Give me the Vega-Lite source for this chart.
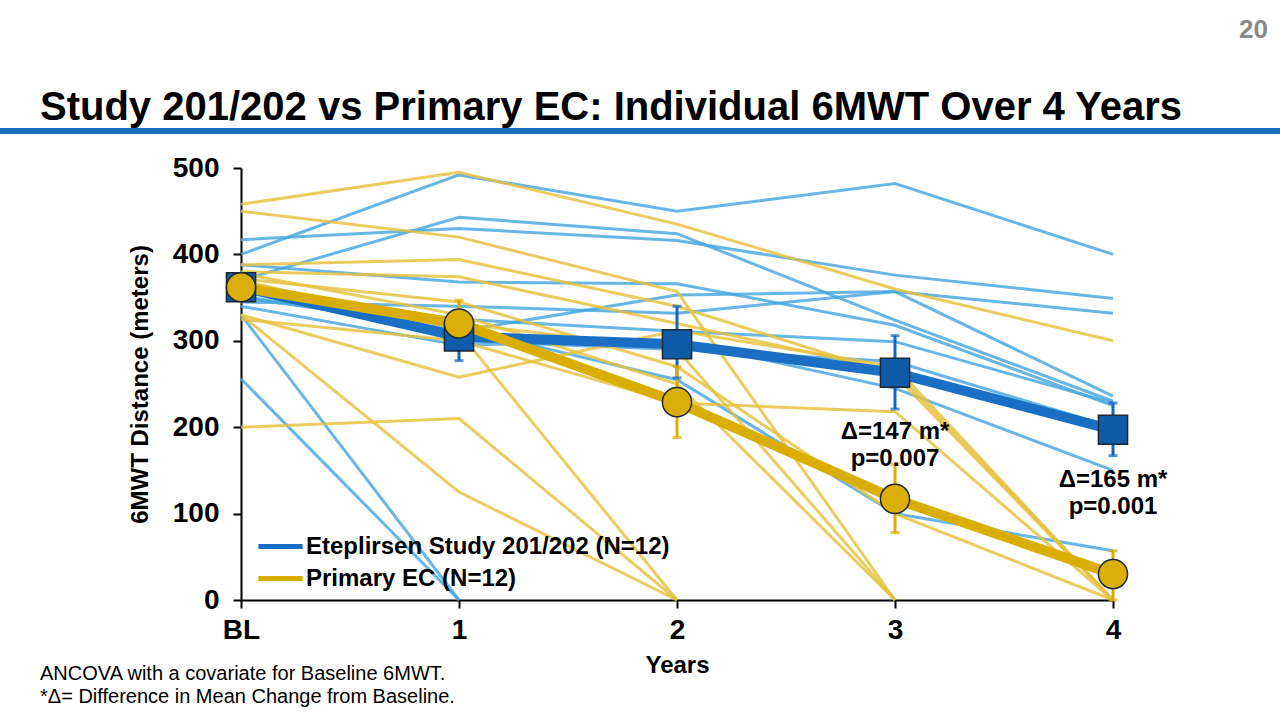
{
  "$schema": "https://vega.github.io/schema/vega-lite/v6.json",
  "width": 872,
  "height": 432,
  "autosize": {"type": "none"},
  "padding": {"left": 241, "top": 168, "right": 167, "bottom": 120},
  "background": "white",
  "config": {
    "view": {"stroke": null},
    "font": "Liberation Sans",
    "axis": {
      "grid": false,
      "domainColor": "black",
      "domainWidth": 2,
      "tickColor": "black",
      "tickWidth": 2,
      "tickSize": 8,
      "labelFont": "Liberation Sans",
      "labelFontSize": 28,
      "labelFontWeight": "bold",
      "labelColor": "black",
      "labelFlush": false,
      "titleFont": "Liberation Sans",
      "titleFontSize": 24,
      "titleFontWeight": "bold",
      "titleColor": "black"
    },
    "legend": {
      "orient": "none",
      "legendX": 21,
      "legendY": 360,
      "title": null,
      "padding": 0,
      "labelFont": "Liberation Sans",
      "labelFontSize": 24,
      "labelFontWeight": "bold",
      "labelColor": "black",
      "labelLimit": 0,
      "symbolType": "M -1.4 0 L 1.4 0",
      "symbolStrokeWidth": 5,
      "symbolSize": 1000,
      "rowPadding": 1,
      "labelOffset": 7
    }
  },
  "datasets": {
    "individual": [
      {"g": "Eteplirsen", "id": "E1", "year": 0, "dist": 400}, {"g": "Eteplirsen", "id": "E1", "year": 1, "dist": 492}, {"g": "Eteplirsen", "id": "E1", "year": 2, "dist": 450}, {"g": "Eteplirsen", "id": "E1", "year": 3, "dist": 482}, {"g": "Eteplirsen", "id": "E1", "year": 4, "dist": 400},
      {"g": "Eteplirsen", "id": "E2", "year": 0, "dist": 417}, {"g": "Eteplirsen", "id": "E2", "year": 1, "dist": 430}, {"g": "Eteplirsen", "id": "E2", "year": 2, "dist": 416}, {"g": "Eteplirsen", "id": "E2", "year": 3, "dist": 376}, {"g": "Eteplirsen", "id": "E2", "year": 4, "dist": 349},
      {"g": "Eteplirsen", "id": "E3", "year": 0, "dist": 370}, {"g": "Eteplirsen", "id": "E3", "year": 1, "dist": 443}, {"g": "Eteplirsen", "id": "E3", "year": 2, "dist": 424}, {"g": "Eteplirsen", "id": "E3", "year": 3, "dist": 324}, {"g": "Eteplirsen", "id": "E3", "year": 4, "dist": 230},
      {"g": "Eteplirsen", "id": "E4", "year": 0, "dist": 345}, {"g": "Eteplirsen", "id": "E4", "year": 1, "dist": 340}, {"g": "Eteplirsen", "id": "E4", "year": 2, "dist": 332}, {"g": "Eteplirsen", "id": "E4", "year": 3, "dist": 357}, {"g": "Eteplirsen", "id": "E4", "year": 4, "dist": 332},
      {"g": "Eteplirsen", "id": "E5", "year": 0, "dist": 388}, {"g": "Eteplirsen", "id": "E5", "year": 1, "dist": 368}, {"g": "Eteplirsen", "id": "E5", "year": 2, "dist": 366}, {"g": "Eteplirsen", "id": "E5", "year": 3, "dist": 318}, {"g": "Eteplirsen", "id": "E5", "year": 4, "dist": 225},
      {"g": "Eteplirsen", "id": "E6", "year": 0, "dist": 352}, {"g": "Eteplirsen", "id": "E6", "year": 1, "dist": 311}, {"g": "Eteplirsen", "id": "E6", "year": 2, "dist": 353}, {"g": "Eteplirsen", "id": "E6", "year": 3, "dist": 357}, {"g": "Eteplirsen", "id": "E6", "year": 4, "dist": 236},
      {"g": "Eteplirsen", "id": "E7", "year": 0, "dist": 358}, {"g": "Eteplirsen", "id": "E7", "year": 1, "dist": 325}, {"g": "Eteplirsen", "id": "E7", "year": 2, "dist": 311}, {"g": "Eteplirsen", "id": "E7", "year": 3, "dist": 299}, {"g": "Eteplirsen", "id": "E7", "year": 4, "dist": 228},
      {"g": "Eteplirsen", "id": "E8", "year": 0, "dist": 365}, {"g": "Eteplirsen", "id": "E8", "year": 1, "dist": 300}, {"g": "Eteplirsen", "id": "E8", "year": 2, "dist": 290}, {"g": "Eteplirsen", "id": "E8", "year": 3, "dist": 276}, {"g": "Eteplirsen", "id": "E8", "year": 4, "dist": 200},
      {"g": "Eteplirsen", "id": "E9", "year": 0, "dist": 350}, {"g": "Eteplirsen", "id": "E9", "year": 1, "dist": 315}, {"g": "Eteplirsen", "id": "E9", "year": 2, "dist": 255}, {"g": "Eteplirsen", "id": "E9", "year": 3, "dist": 100}, {"g": "Eteplirsen", "id": "E9", "year": 4, "dist": 57},
      {"g": "Eteplirsen", "id": "E10", "year": 0, "dist": 340}, {"g": "Eteplirsen", "id": "E10", "year": 1, "dist": 295}, {"g": "Eteplirsen", "id": "E10", "year": 2, "dist": 300}, {"g": "Eteplirsen", "id": "E10", "year": 3, "dist": 245}, {"g": "Eteplirsen", "id": "E10", "year": 4, "dist": 150},
      {"g": "Eteplirsen", "id": "E11", "year": 0, "dist": 330}, {"g": "Eteplirsen", "id": "E11", "year": 1, "dist": 0},
      {"g": "Eteplirsen", "id": "E12", "year": 0, "dist": 256}, {"g": "Eteplirsen", "id": "E12", "year": 1, "dist": 0},
      {"g": "Primary", "id": "P1", "year": 0, "dist": 458}, {"g": "Primary", "id": "P1", "year": 1, "dist": 495}, {"g": "Primary", "id": "P1", "year": 2, "dist": 435}, {"g": "Primary", "id": "P1", "year": 3, "dist": 360}, {"g": "Primary", "id": "P1", "year": 4, "dist": 300},
      {"g": "Primary", "id": "P2", "year": 0, "dist": 450}, {"g": "Primary", "id": "P2", "year": 1, "dist": 420}, {"g": "Primary", "id": "P2", "year": 2, "dist": 357}, {"g": "Primary", "id": "P2", "year": 3, "dist": 0},
      {"g": "Primary", "id": "P3", "year": 0, "dist": 388}, {"g": "Primary", "id": "P3", "year": 1, "dist": 394}, {"g": "Primary", "id": "P3", "year": 2, "dist": 340}, {"g": "Primary", "id": "P3", "year": 3, "dist": 260}, {"g": "Primary", "id": "P3", "year": 4, "dist": 0},
      {"g": "Primary", "id": "P4", "year": 0, "dist": 380}, {"g": "Primary", "id": "P4", "year": 1, "dist": 374}, {"g": "Primary", "id": "P4", "year": 2, "dist": 320}, {"g": "Primary", "id": "P4", "year": 3, "dist": 265}, {"g": "Primary", "id": "P4", "year": 4, "dist": 0},
      {"g": "Primary", "id": "P5", "year": 0, "dist": 370}, {"g": "Primary", "id": "P5", "year": 1, "dist": 310}, {"g": "Primary", "id": "P5", "year": 2, "dist": 0},
      {"g": "Primary", "id": "P6", "year": 0, "dist": 330}, {"g": "Primary", "id": "P6", "year": 1, "dist": 258}, {"g": "Primary", "id": "P6", "year": 2, "dist": 312}, {"g": "Primary", "id": "P6", "year": 3, "dist": 270}, {"g": "Primary", "id": "P6", "year": 4, "dist": 0},
      {"g": "Primary", "id": "P7", "year": 0, "dist": 325}, {"g": "Primary", "id": "P7", "year": 1, "dist": 300}, {"g": "Primary", "id": "P7", "year": 2, "dist": 228}, {"g": "Primary", "id": "P7", "year": 3, "dist": 218}, {"g": "Primary", "id": "P7", "year": 4, "dist": 0},
      {"g": "Primary", "id": "P8", "year": 0, "dist": 200}, {"g": "Primary", "id": "P8", "year": 1, "dist": 210}, {"g": "Primary", "id": "P8", "year": 2, "dist": 0},
      {"g": "Primary", "id": "P9", "year": 0, "dist": 330}, {"g": "Primary", "id": "P9", "year": 1, "dist": 125}, {"g": "Primary", "id": "P9", "year": 2, "dist": 0},
      {"g": "Primary", "id": "P10", "year": 0, "dist": 378}, {"g": "Primary", "id": "P10", "year": 1, "dist": 330}, {"g": "Primary", "id": "P10", "year": 2, "dist": 250}, {"g": "Primary", "id": "P10", "year": 3, "dist": 0},
      {"g": "Primary", "id": "P11", "year": 0, "dist": 360}, {"g": "Primary", "id": "P11", "year": 1, "dist": 320}, {"g": "Primary", "id": "P11", "year": 2, "dist": 290}, {"g": "Primary", "id": "P11", "year": 3, "dist": 0},
      {"g": "Primary", "id": "P12", "year": 0, "dist": 372}, {"g": "Primary", "id": "P12", "year": 1, "dist": 345}, {"g": "Primary", "id": "P12", "year": 2, "dist": 270}, {"g": "Primary", "id": "P12", "year": 3, "dist": 100}, {"g": "Primary", "id": "P12", "year": 4, "dist": 0}
    ],
    "means": [
      {"g": "Eteplirsen", "year": 0, "dist": 362, "lo": null, "hi": null},
      {"g": "Eteplirsen", "year": 1, "dist": 305, "lo": 277, "hi": 333},
      {"g": "Eteplirsen", "year": 2, "dist": 296, "lo": 257, "hi": 340},
      {"g": "Eteplirsen", "year": 3, "dist": 263, "lo": 221, "hi": 306},
      {"g": "Eteplirsen", "year": 4, "dist": 197, "lo": 167, "hi": 228},
      {"g": "Primary", "year": 0, "dist": 362, "lo": null, "hi": null},
      {"g": "Primary", "year": 1, "dist": 320, "lo": 295, "hi": 347},
      {"g": "Primary", "year": 2, "dist": 229, "lo": 188, "hi": 270},
      {"g": "Primary", "year": 3, "dist": 117, "lo": 78, "hi": 157},
      {"g": "Primary", "year": 4, "dist": 30, "lo": 0, "hi": 57}
    ],
    "notes": [
      {"year": 3, "dist": 208, "label": "Δ=147 m*\np=0.007"},
      {"year": 4, "dist": 153, "label": "Δ=165 m*\np=0.001"}
    ]
  },
  "layer": [
    {
      "data": {"name": "individual"},
      "mark": {"type": "line", "strokeWidth": 3, "opacity": 0.82},
      "encoding": {
        "x": {"field": "year", "type": "quantitative", "title": "Years",
              "scale": {"domain": [0, 4], "nice": false, "zero": false},
              "axis": {"values": [0, 1, 2, 3, 4], "labelExpr": "datum.value == 0 ? 'BL' : format(datum.value, 'd')", "labelPadding": 8, "titlePadding": 9}},
        "y": {"field": "dist", "type": "quantitative", "title": "6MWT Distance (meters)",
              "scale": {"domain": [0, 500], "nice": false},
              "axis": {"values": [0, 100, 200, 300, 400, 500], "labelPadding": 14, "titlePadding": 20}},
        "detail": {"field": "id"},
        "color": {"field": "g", "type": "nominal", "legend": null,
                  "scale": {"domain": ["Eteplirsen", "Primary"], "range": ["#45a6e0", "#e6c13d"]}}
      }
    },
    {
      "data": {"name": "means"},
      "mark": {"type": "line", "strokeWidth": 10},
      "encoding": {
        "x": {"field": "year", "type": "quantitative", "title": "Years"},
        "y": {"field": "dist", "type": "quantitative", "title": "6MWT Distance (meters)"},
        "color": {"field": "g", "type": "nominal",
                  "scale": {"domain": ["Eteplirsen", "Primary"], "range": ["#1a6fc4", "#d9ae00"]},
                  "legend": {"labelExpr": "datum.label == 'Eteplirsen' ? 'Eteplirsen Study 201/202 (N=12)' : 'Primary EC (N=12)'"}}
      }
    },
    {
      "data": {"name": "means"},
      "mark": {"type": "rule", "strokeWidth": 3},
      "encoding": {
        "x": {"field": "year", "type": "quantitative", "title": "Years"},
        "y": {"field": "lo", "type": "quantitative", "title": "6MWT Distance (meters)"},
        "y2": {"field": "hi"},
        "color": {"field": "g", "type": "nominal", "legend": null,
                  "scale": {"domain": ["Eteplirsen", "Primary"], "range": ["#1565c0", "#d9ae00"]}}
      }
    },
    {
      "data": {"name": "means"},
      "mark": {"type": "tick", "orient": "horizontal", "size": 9, "thickness": 3},
      "encoding": {
        "x": {"field": "year", "type": "quantitative", "title": "Years"},
        "y": {"field": "lo", "type": "quantitative", "title": "6MWT Distance (meters)"},
        "color": {"field": "g", "type": "nominal", "legend": null,
                  "scale": {"domain": ["Eteplirsen", "Primary"], "range": ["#1565c0", "#d9ae00"]}}
      }
    },
    {
      "data": {"name": "means"},
      "mark": {"type": "tick", "orient": "horizontal", "size": 9, "thickness": 3},
      "encoding": {
        "x": {"field": "year", "type": "quantitative", "title": "Years"},
        "y": {"field": "hi", "type": "quantitative", "title": "6MWT Distance (meters)"},
        "color": {"field": "g", "type": "nominal", "legend": null,
                  "scale": {"domain": ["Eteplirsen", "Primary"], "range": ["#1565c0", "#d9ae00"]}}
      }
    },
    {
      "data": {"name": "means"},
      "mark": {"type": "point", "filled": true, "size": 850, "stroke": "#1f2833", "strokeWidth": 1.5, "opacity": 1},
      "encoding": {
        "x": {"field": "year", "type": "quantitative", "title": "Years"},
        "y": {"field": "dist", "type": "quantitative", "title": "6MWT Distance (meters)"},
        "fill": {"field": "g", "type": "nominal", "legend": null,
                 "scale": {"domain": ["Eteplirsen", "Primary"], "range": ["#0f5ba8", "#d9ae06"]}},
        "shape": {"field": "g", "type": "nominal", "legend": null,
                  "scale": {"domain": ["Eteplirsen", "Primary"], "range": ["square", "circle"]}}
      }
    },
    {
      "data": {"name": "notes"},
      "mark": {"type": "text", "align": "center", "baseline": "top", "fontSize": 24, "fontWeight": "bold", "font": "Liberation Sans", "lineBreak": "\n", "lineHeight": 27, "color": "black"},
      "encoding": {
        "x": {"field": "year", "type": "quantitative", "title": "Years"},
        "y": {"field": "dist", "type": "quantitative", "title": "6MWT Distance (meters)"},
        "text": {"field": "label"}
      }
    },
    {
      "data": {"values": [{}]},
      "mark": {"type": "rule", "strokeWidth": 6, "color": "#1a6bb8"},
      "encoding": {
        "x": {"datum": -1.106, "type": "quantitative"},
        "x2": {"datum": 4.77},
        "y": {"datum": 542.8, "type": "quantitative"}
      }
    },
    {
      "data": {"values": [{}]},
      "mark": {"type": "text", "align": "left", "baseline": "alphabetic", "fontSize": 40, "fontWeight": "bold", "font": "Liberation Sans", "color": "black", "text": "Study 201/202 vs Primary EC: Individual 6MWT Over 4 Years"},
      "encoding": {
        "x": {"datum": -0.922, "type": "quantitative"},
        "y": {"datum": 555.6, "type": "quantitative"}
      }
    },
    {
      "data": {"values": [{}]},
      "mark": {"type": "text", "align": "right", "baseline": "alphabetic", "fontSize": 26, "fontWeight": "bold", "font": "Liberation Sans", "color": "#8a8a8a", "text": "20"},
      "encoding": {
        "x": {"datum": 4.711, "type": "quantitative"},
        "y": {"datum": 650.5, "type": "quantitative"}
      }
    },
    {
      "data": {"values": [{}]},
      "mark": {"type": "text", "align": "left", "baseline": "alphabetic", "fontSize": 20, "font": "Liberation Sans", "color": "black", "text": "ANCOVA with a covariate for Baseline 6MWT."},
      "encoding": {
        "x": {"datum": -0.922, "type": "quantitative"},
        "y": {"datum": -92.6, "type": "quantitative"}
      }
    },
    {
      "data": {"values": [{}]},
      "mark": {"type": "text", "align": "left", "baseline": "alphabetic", "fontSize": 20, "font": "Liberation Sans", "color": "black", "text": "*Δ= Difference in Mean Change from Baseline."},
      "encoding": {
        "x": {"datum": -0.922, "type": "quantitative"},
        "y": {"datum": -119.2, "type": "quantitative"}
      }
    }
  ],
  "resolve": {"scale": {"color": "independent"}}
}
